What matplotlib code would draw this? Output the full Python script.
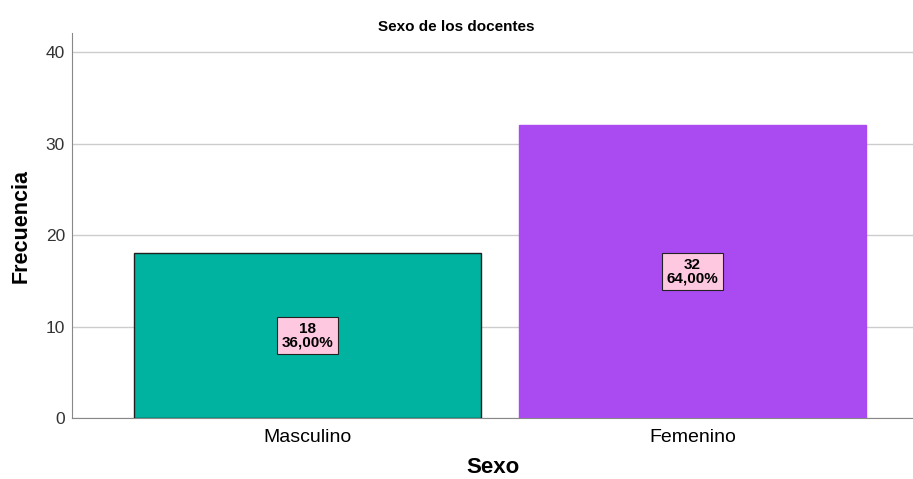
import matplotlib.pyplot as plt

categorias = ["Masculino", "Femenino"]
frecuencias = [18, 32]
porcentajes = ["36,00%", "64,00%"]
colores = ["#00B3A0", "#AA4BF2"]
bordes = ["#1f1f1f", "#AA4BF2"]

plt.rcParams['font.family'] = ['Liberation Sans', 'DejaVu Sans']

fig = plt.figure(figsize=(9.13, 4.79), dpi=100)
ax = fig.add_axes([0.0789, 0.1273, 0.9211, 0.8037])

x = range(len(categorias))
bars = ax.bar(x, frecuencias, width=0.9, color=colores, edgecolor=bordes,
              linewidth=1, zorder=3)

for xi, f, p in zip(x, frecuencias, porcentajes):
    ax.text(xi, f / 2, f"{f}\n{p}", ha='center', va='center', fontsize=11,
            fontweight='bold', linespacing=1.0, zorder=5,
            bbox=dict(boxstyle='square,pad=0.3', facecolor='#FFC8E1',
                      edgecolor='#222222', linewidth=0.8))

ax.set_xlim(-0.612, 1.573)
ax.set_ylim(0, 42.1)
ax.set_yticks([0, 10, 20, 30, 40])
ax.set_xticks(list(x))
ax.set_xticklabels(categorias, fontsize=14)
ax.tick_params(axis='y', labelsize=12.5, labelcolor='#333333', length=0, pad=5)
ax.tick_params(axis='x', length=0, pad=8)
ax.grid(axis='y', color='#cccccc', linewidth=1, zorder=0)

for s in ['top', 'right']:
    ax.spines[s].set_visible(False)
ax.spines['left'].set_color('#888888')
ax.spines['bottom'].set_color('#888888')

ax.set_ylabel("Frecuencia", fontsize=15.5, fontweight='bold', labelpad=10)
ax.set_xlabel("Sexo", fontsize=16, fontweight='bold', labelpad=8)
fig.text(0.5, 0.944, "Sexo de los docentes", ha='center', va='center',
         fontsize=11, fontweight='bold')

fig.savefig("out.png", dpi=100)
